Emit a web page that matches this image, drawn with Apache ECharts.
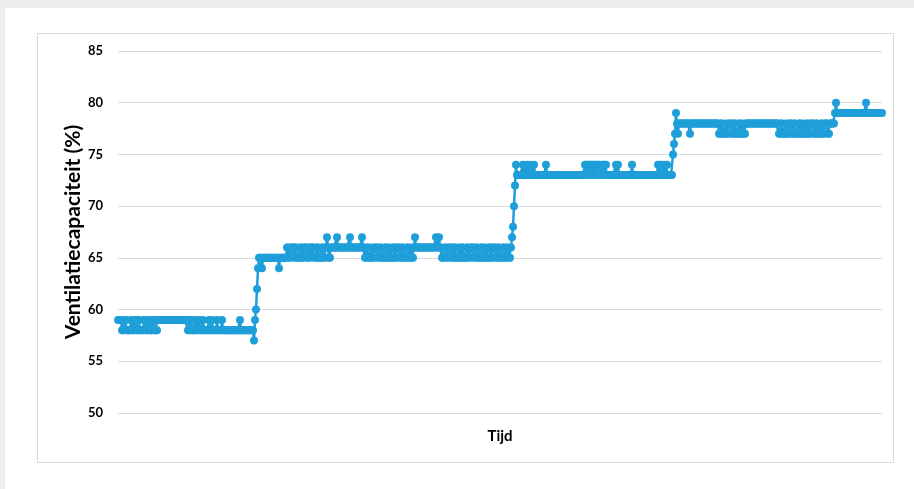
<!DOCTYPE html>
<html>
<head>
<meta charset="utf-8">
<script src="https://cdn.jsdelivr.net/npm/echarts@6/dist/echarts.min.js"></script>
<style>
html,body{margin:0;padding:0;background:#fff;}
#c{width:914px;height:489px;}
</style>
</head>
<body>
<div id="c"></div>
<script>
// Run-length encoded readings: [value, count of consecutive samples]
const phase1Runs = [[59,4],
  [58,3],[59,2],[58,4],[59,1],[58,3],[59,2],[58,2],[59,1],[58,4],[59,2],[58,3],[59,1],[58,3],[59,2],[58,3],
  [59,30],
  [58,2],[59,2],[58,3],[59,1],[58,2],[59,2],[58,3],[59,1],[58,2],
  [58,3],[59,1],[58,2],[59,1],[58,4],[59,1],[58,4],[59,1],[58,17],[59,1],[58,12]];
const rise1Runs = [[58,1],[57,1],[59,1],[60,1],[62,1],[64,1]];
const phase2Runs = [[65,3],[64,1],[65,16],[64,1],[65,7],
  [66,2],[65,2],[66,3],[65,1],[66,2],[65,3],[66,2],[65,2],[66,3],[65,2],[66,2],[65,1],[66,3],[65,2],[66,2],[65,3],[66,2],[65,2],[66,1],[67,1],[66,1],[65,2],[66,3],
  [66,3],[67,1],[66,12],[67,1],[66,11],[67,1],[66,2],
  [65,2],[66,2],[65,3],[66,1],[65,2],[66,3],[65,2],[66,2],[65,3],[66,2],[65,2],[66,1],[65,3],[66,2],[65,2],[66,3],[65,2],[66,2],[65,3],[66,2],[65,2],[66,1],[65,2],[66,1],[67,1],[66,1],[66,3],
  [66,16],[67,1],[66,2],[67,1],[66,2],
  [65,3],[66,2],[65,2],[66,3],[65,2],[66,2],[65,3],[66,1],[65,2],[66,2],[65,3],[66,2],[65,2],[66,3],[65,2],[66,2],[65,3],[66,2],[65,2],[66,1],[65,3],[66,2],[65,2],[66,3],[65,2],[66,2],[65,3],[66,2],[65,2],[66,2],[65,2]];
const rise2Runs = [[66,1],[67,1],[68,1],[70,1],[72,1],[74,1]];
const phase3Runs = [[73,6],[74,1],[73,3],[74,1],[73,2],[74,1],[73,3],[74,1],[73,11],[74,1],[73,38],
  [74,2],[73,2],[74,3],[73,1],[74,2],[73,2],[74,3],[73,2],[74,2],[73,1],[74,2],[73,2],
  [73,7],[74,1],[73,1],[74,1],[73,13],[74,1],[73,25],
  [74,2],[73,2],[74,1],[73,3],[74,2],[73,5]];
const rise3Runs = [[75,1],[76,1],[77,1],[79,1],[78,1],[77,1],[78,1]];
const phase4Runs = [[78,10],[77,1],[78,28],
  [77,2],[78,2],[77,3],[78,1],[77,2],[78,3],[77,2],[78,2],[77,3],[78,2],[77,2],[78,1],[77,2],
  [78,33],
  [77,2],[78,2],[77,3],[78,1],[77,2],[78,3],[77,2],[78,2],[77,3],[78,2],[77,2],[78,1],[77,3],[78,2],[77,2],[78,3],[77,2],[78,2],[77,3],[78,2],[77,2],[78,3],[77,2],[78,2],
  [78,3]];
const phase5Runs = [[79,1],[80,1],[79,29],[80,1],[79,16]];

const yTicks = [50, 55, 60, 65, 70, 75, 80, 85];
const xTitle = 'Tijd';
const yTitle = 'Ventilatiecapaciteit (%)';

function expand(runs){ const out=[]; runs.forEach(([v,n])=>{for(let i=0;i<n;i++) out.push(v);}); return out; }
const values = [].concat(expand(phase1Runs), expand(rise1Runs), expand(phase2Runs), expand(rise2Runs),
  expand(phase3Runs), expand(rise3Runs), expand(phase4Runs), expand(phase5Runs));
const categories = values.map((_, i) => String(i + 1));

const FONT = 'Lato';
const chart = echarts.init(document.getElementById('c'), null, {renderer:'canvas'});
chart.setOption({
  animation:false,
  backgroundColor:'#ffffff',
  graphic:[
    {type:'rect', silent:true, z:-10, shape:{x:0,y:0,width:914,height:8}, style:{fill:'#eeeeee'}},
    {type:'rect', silent:true, z:-10, shape:{x:0,y:0,width:5,height:489}, style:{fill:'#eeeeee'}},
    {type:'rect', silent:true, z:-9, shape:{x:37.5,y:33.5,width:856,height:429}, style:{fill:'none', stroke:'#d9d9d9', lineWidth:1}}
  ],
  grid:{left:118, right:32, top:51, bottom:76, containLabel:false},
  xAxis:{
    type:'category', data:categories, boundaryGap:false,
    axisLine:{show:false}, axisTick:{show:false}, axisLabel:{show:false}, splitLine:{show:false},
    name:xTitle, nameLocation:'middle', nameGap:16, nameMoveOverlap:false,
    nameTextStyle:{fontFamily:FONT, fontWeight:'bold', fontSize:15, color:'#000'}
  },
  yAxis:{
    type:'value', min:yTicks[0], max:yTicks[yTicks.length-1], interval:5,
    axisLine:{show:false}, axisTick:{show:false},
    axisLabel:{fontFamily:FONT, fontWeight:'bold', fontSize:13, color:'#000', margin:15},
    splitLine:{show:true, lineStyle:{color:'#d9d9d9', width:1}},
    name:yTitle, nameLocation:'middle', nameGap:34, nameMoveOverlap:false,
    nameTextStyle:{fontFamily:FONT, fontWeight:'bold', fontSize:21, color:'#000'}
  },
  series:[{
    type:'line', data:values, showAllSymbol:true, symbol:'circle', symbolSize:8,
    itemStyle:{color:'#1f9fd9'}, lineStyle:{color:'#1f9fd9', width:2.5},
    emphasis:{disabled:true}
  }]
});
</script>
</body>
</html>
